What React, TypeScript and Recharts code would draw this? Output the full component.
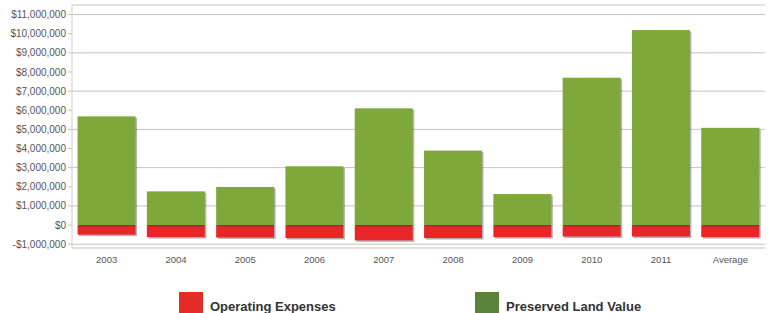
import { Bar, BarChart, CartesianGrid, XAxis, YAxis } from "recharts";

const years = ["2003", "2004", "2005", "2006", "2007", "2008", "2009", "2010", "2011", "Average"];
const operatingExpenses = [-500000, -630000, -650000, -680000, -800000, -680000, -630000, -600000, -600000, -630000];
const preservedLandValue = [5680000, 1760000, 1990000, 3070000, 6100000, 3890000, 1620000, 7700000, 10190000, 5080000];
const yTicks = [-1000000, 0, 1000000, 2000000, 3000000, 4000000, 5000000, 6000000, 7000000, 8000000, 9000000, 10000000, 11000000];

const data = years.map((name, i) => ({
	name,
	expenses: operatingExpenses[i],
	land: preservedLandValue[i],
}));

const formatMoney = (v: number) => {
	if (v === 0) return "$0";
	const s = "$" + Math.abs(v).toLocaleString("en-US");
	return v < 0 ? "-" + s : s;
};

const ShadowBar = (props: any) => {
	const { x, y, width, height, fill } = props;
	if (!height) return null;
	const top = height < 0 ? y + height : y;
	const h = Math.abs(height);
	return (
		<g>
			<rect x={x + 1.5} y={top + 1.5} width={width} height={h} fill="rgba(40,40,40,0.35)" />
			<rect x={x} y={top} width={width} height={h} fill={fill} />
		</g>
	);
};

export default function App() {
	return (
		<div style={{ position: "absolute", left: 0, top: 0, width: 771, height: 313, background: "#fff", overflow: "hidden", fontFamily: "'Liberation Sans', Arial, sans-serif" }}>
			<BarChart
				width={771}
				height={270}
				data={data}
				stackOffset="sign"
				barCategoryGap="8%"
				margin={{ top: 5, right: 6, left: 0, bottom: 2 }}
			>
				<CartesianGrid vertical={false} stroke="#cdbfbf" />
				<XAxis
					dataKey="name"
					height={20}
					axisLine={false}
					tickLine={false}
					tick={{ fontSize: 9.5, fill: "#555" }}
				/>
				<YAxis
					width={72}
					domain={[-1200000, 11500000]}
					ticks={yTicks}
					tickFormatter={formatMoney}
					axisLine={{ stroke: "#cfcfcf" }}
					tickLine={{ stroke: "#cdbfbf" }}
					tickSize={4}
					tick={{ fontSize: 10, fill: "#555" }}
				/>
				<Bar dataKey="expenses" stackId="a" fill="#e8262a" shape={ShadowBar} isAnimationActive={false} />
				<Bar dataKey="land" stackId="a" fill="#7fa83a" shape={ShadowBar} isAnimationActive={false} />
			</BarChart>
			<div style={{ position: "absolute", left: 179, top: 292, width: 24, height: 24, background: "#e52b28" }} />
			<div style={{ position: "absolute", left: 210, top: 299, fontSize: 13, fontWeight: "bold", color: "#333" }}>
				Operating Expenses
			</div>
			<div style={{ position: "absolute", left: 475, top: 292, width: 24, height: 24, background: "#5a8238" }} />
			<div style={{ position: "absolute", left: 506, top: 299, fontSize: 13, fontWeight: "bold", color: "#333" }}>
				Preserved Land Value
			</div>
		</div>
	);
}
